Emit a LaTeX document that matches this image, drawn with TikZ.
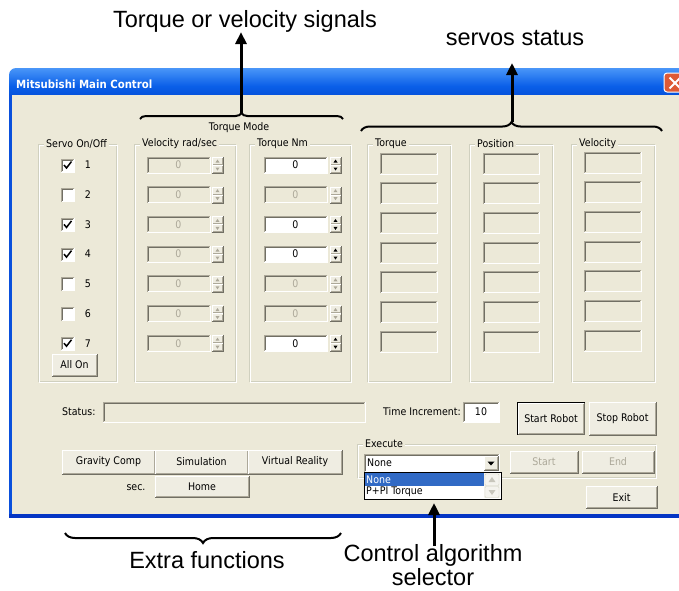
\documentclass[tikz,border=0pt]{standalone}
\usepackage{fontspec}
\newfontfamily\annotfont{Liberation Sans}
\newfontfamily\uifont[FakeStretch=0.9]{DejaVu Sans}
\usetikzlibrary{decorations.pathreplacing,arrows.meta}
\definecolor{winbg}{HTML}{ECE9D8}
\definecolor{btnface}{HTML}{EFEDE2}
\definecolor{grpline}{HTML}{D0D0BF}
\definecolor{dark3d}{HTML}{716F64}
\definecolor{mid3d}{HTML}{ACA899}
\definecolor{distext}{HTML}{ACA899}
\definecolor{xpblue}{HTML}{0A50DC}
\definecolor{xpbottom}{HTML}{0435C4}
\definecolor{titletop}{HTML}{4A96F8}
\definecolor{titlemid}{HTML}{0A5FE8}
\definecolor{titlebot}{HTML}{0045D0}
\definecolor{selblue}{HTML}{316AC5}
\definecolor{closered}{HTML}{DE5A35}
\definecolor{scrollbg}{HTML}{F4F3EE}
\definecolor{scrollarrow}{HTML}{C8C6BC}
\tikzset{
  ui/.style={font=\uifont\fontsize{10.5}{12}\selectfont, inner sep=0pt},
  grplabel/.style={ui, fill=winbg, inner xsep=2pt, anchor=west},
  titletext/.style={font=\uifont\bfseries\fontsize{11.3}{13}\selectfont, inner sep=0pt, text=white},
  annot/.style={font=\annotfont\fontsize{23.5}{25}\selectfont, inner sep=0pt},
  callout/.style={line width=3pt, -{Triangle[width=11pt,length=12pt]}},
  bracedeco/.style={decorate, decoration={brace, amplitude=#1}, line width=2pt},
}
\newcommand\sunk[5]{%
  \fill[#5] (#1,#2) rectangle (#3,#4);
  \draw[white,line width=1pt] (#1,#4) -- (#3,#4) -- (#3,#2);
  \draw[mid3d,line width=1pt] (#1,#4) -- (#1,#2) -- (#3,#2);
  \draw[dark3d,line width=1pt] (#1+1,#4-1) -- (#1+1,#2+1) -- (#3-1,#2+1);
}
\newcommand\raised[4]{%
  \fill[btnface] (#1,#2) rectangle (#3,#4);
  \draw[white] (#1,#4) -- (#1,#2) -- (#3,#2);
  \draw[dark3d] (#1,#4) -- (#3,#4) -- (#3,#2);
  \draw[mid3d] (#1+1,#4-1) -- (#3-1,#4-1) -- (#3-1,#2+1);
}
\newcommand\spinbox[3]{%
  \raised{#1}{#2-8}{#1+11}{#2}
  \raised{#1}{#2}{#1+11}{#2+8}
  \fill[#3] (#1+5.5,#2-5.5) -- (#1+3.5,#2-2.5) -- (#1+7.5,#2-2.5) -- cycle;
  \fill[#3] (#1+5.5,#2+5.5) -- (#1+3.5,#2+2.5) -- (#1+7.5,#2+2.5) -- cycle;
}
\newcommand\groupbox[6]{% name, x1, y1, x2, y2, label
  \draw[grpline] (#2,#3) rectangle (#4-1,#5-1);
  \draw[white] (#2+1,#3+1) rectangle (#4,#5);
  \node[grplabel] (#1) at (#2+6,#3) {#6};
}
\begin{document}
\begin{tikzpicture}[x=1pt,y=-1pt]
\useasboundingbox (0,0) rectangle (679,590);
\clip (0,0) rectangle (679,590);
\fill[white] (0,0) rectangle (679,590);

% ---------- window frame ----------
\shade[top color=titletop, bottom color=titlebot, middle color=titlemid, rounded corners=7pt]
  (9,68) rectangle (700,104);
\fill[xpblue] (9,95) rectangle (690,518);
\fill[xpbottom] (9,514) rectangle (690,518);
\fill[winbg] (12,95) rectangle (690,514);
\node[titletext, anchor=base west] (title) at (16,88) {Mitsubishi Main Control};
% close button
\fill[closered, rounded corners=3pt] (664,73) rectangle (686,92);
\draw[white, line width=1pt, rounded corners=3pt] (664,73) rectangle (686,92);
\draw[white, line width=2pt] (669.5,77.5) -- (680.5,88.5);
\draw[white, line width=2pt] (669.5,88.5) -- (680.5,77.5);

% ---------- group boxes ----------
\node[ui] (tmode) at (239,128) {Torque Mode};
\groupbox{gservo}{38}{144}{117}{382}{Servo On/Off}
\groupbox{gvel}{134}{144}{236}{382}{Velocity rad/sec}
\groupbox{gtqnm}{249}{144}{351}{382}{Torque Nm}
\groupbox{gtq}{367}{144}{451}{382}{Torque}
\groupbox{gpos}{469}{144}{553}{382}{Position}
\groupbox{gsvel}{571}{144}{655}{382}{Velocity}

% ---------- rows ----------
\foreach \i/\chk/\en in {1/1/1,2/0/0,3/1/1,4/1/1,5/0/0,6/0/0,7/1/1}{
  \pgfmathsetmacro\ry{165+29.7*(\i-1)}
  \sunk{61}{\ry-6}{74}{\ry+7}{white}
  \ifnum\chk=1 \draw[line width=1.5pt] (64,\ry) -- (66.5,\ry+3) -- (71.5,\ry-3.5); \fi
  \node[ui] (num\i) at (88,\ry) {\i};
  \sunk{147}{\ry-8}{210}{\ry+8}{winbg}
  \node[ui,text=distext] (vel\i) at (178.5,\ry) {0};
  \spinbox{212}{\ry}{distext}
  \ifnum\en=1
    \sunk{264}{\ry-8}{327}{\ry+8}{white}
    \node[ui] (tq\i) at (295.5,\ry) {0};
    \spinbox{330}{\ry}{black}
  \else
    \sunk{264}{\ry-8}{327}{\ry+8}{winbg}
    \node[ui,text=distext] (tq\i) at (295.5,\ry) {0};
    \spinbox{330}{\ry}{distext}
  \fi
  \pgfmathsetmacro\sy{153+29.7*(\i-1)}
  \sunk{380}{\sy}{437}{\sy+21}{winbg}
  \sunk{483}{\sy}{539}{\sy+21}{winbg}
  \sunk{584}{\sy-1}{641}{\sy+20}{winbg}
}
\raised{52}{354}{97}{376}
\node[ui] (allon) at (74.5,365) {All On};

% ---------- status line ----------
\node[ui, anchor=west] (statuslbl) at (62,412) {Status:};
\sunk{103}{402}{365}{422}{winbg}
\node[ui, anchor=west] (timelbl) at (383,412) {Time Increment:};
\sunk{463}{402}{499}{422}{white}
\node[ui] (timeval) at (481,412) {10};
\fill[black] (517,402) rectangle (585,435);
\raised{518}{403}{584}{434}
\node[ui] (startrobot) at (551,418.5) {Start Robot};
\raised{589}{402}{656}{435}
\node[ui] (stoprobot) at (622.5,418.5) {Stop Robot};

% ---------- extra functions ----------
\raised{62}{450}{155}{474}
\node[ui] (gravity) at (108.5,462) {Gravity Comp};
\raised{155}{450}{248}{474}
\node[ui] (simul) at (201.5,462) {Simulation};
\raised{248}{450}{342}{474}
\node[ui] (vr) at (295,462) {Virtual Reality};
\node[ui] (seclbl) at (136,488) {sec.};
\raised{155}{476}{249}{497}
\node[ui] (home) at (202,486.5) {Home};

% ---------- execute ----------
\groupbox{gexec}{357}{444}{656}{478}{Execute}
\sunk{364}{454}{499}{472}{white}
\node[ui, anchor=west] (combotext) at (367,463) {None};
\raised{484}{456}{498}{470}
\fill[black] (491,465.5) -- (487.5,461.5) -- (494.5,461.5) -- cycle;
\raised{510}{451}{578}{473}
\node[ui, text=distext] (startbtn) at (544,462) {Start};
\raised{582}{451}{654}{473}
\node[ui, text=distext] (endbtn) at (618,462) {End};
\raised{586}{486}{657}{508}
\node[ui] (exitbtn) at (621.5,497) {Exit};
% dropdown list
\fill[white] (364,472) rectangle (501,499);
\fill[selblue] (365,473) rectangle (484,486);
\node[ui, anchor=west, text=white] (optnone) at (366,479.5) {None};
\node[ui, anchor=west] (optppi) at (366,492) {P+PI Torque};
\fill[scrollbg] (484,473) rectangle (500,498);
\draw[grpline, rounded corners=1pt] (485,474) rectangle (499,485.5);
\draw[grpline, rounded corners=1pt] (485,486.5) rectangle (499,497.5);
\fill[scrollarrow] (492,477) -- (488.5,482) -- (495.5,482) -- cycle;
\fill[scrollarrow] (492,495) -- (488.5,490) -- (495.5,490) -- cycle;
\draw[black] (364,472) rectangle (501,499);
\coordinate (listbottom) at (434,503);

% ---------- annotations ----------
\node[annot, anchor=base] (sigtext) at (245,27) {Torque or velocity signals};
\node[annot, anchor=base] (stattext) at (515,45) {servos status};
\node[annot, anchor=base] (extratext) at (207,568) {Extra functions};
\node[annot, anchor=base] (ctrltext) at (433,561) {Control algorithm};
\node[annot, anchor=base] (seltext) at (433,585.5) {selector};

\draw[bracedeco=6pt] (140,119) -- (343,119);
\draw[bracedeco=9pt] (361,131) -- (662,131);
\draw[bracedeco=10pt] (341,533) -- (65,533);

\coordinate (tmtip) at (241,113);
\draw[callout] (tmtip) -- (tmtip |- sigtext.south);
\coordinate (sstip) at (512,122);
\coordinate (sstop) at (512,63);
\draw[callout] (sstip) -- (sstop);
\coordinate (ctrlfoot) at (434,546);
\draw[callout] (ctrlfoot) -- (listbottom);
\end{tikzpicture}
\end{document}
